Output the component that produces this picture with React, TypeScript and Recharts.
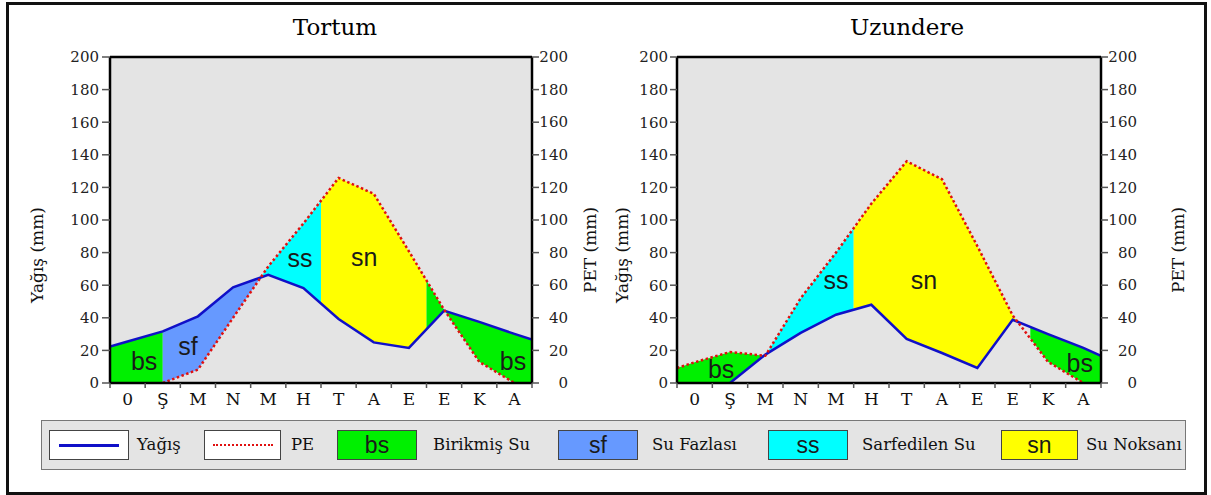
import React from 'react';
import { ComposedChart, Area, Line, XAxis, YAxis, CartesianGrid, ReferenceLine, ReferenceDot } from 'recharts';

// month initials, one band per month; x = 0..12, month centres at .5
const months = ['0', 'Ş', 'M', 'N', 'M', 'H', 'T', 'A', 'E', 'E', 'K', 'A'];
const monthTicks = [0, 1, 2, 3, 4, 5, 6, 7, 8, 9, 10, 11, 12];
const mmTicks = [0, 20, 40, 60, 80, 100, 120, 140, 160, 180, 200];

// Tortum
const tortumRainX = [0, 0.5, 1.5, 2.5, 3.5, 4.5, 5.5, 6.5, 7.5, 8.5, 9.5, 10.5, 11.5, 12];
const tortumRain = [22.4, 25.5, 31.7, 40.9, 58.7, 66.4, 58.3, 39.3, 24.9, 21.5, 44.4, 37.5, 30.1, 26.6];
const tortumPeX = [1.5, 2.5, 3.5, 4.5, 5.5, 6.5, 7.5, 8.5, 9.5, 10.5, 11.5];
const tortumPe = [0, 8.2, 40, 71.5, 97.9, 125.8, 116.1, 80.8, 45, 13, 0];

// Uzundere
const uzunRainX = [1.5, 2.5, 3.5, 4.5, 5.5, 6.5, 7.5, 8.5, 9.5, 10.5, 11.5, 12];
const uzunRain = [0, 17.4, 30.7, 41.9, 48, 27, 18.4, 9.2, 38.8, 30, 21.5, 16.7];
const uzunPeX = [0, 0.5, 1.5, 2.5, 3.5, 4.5, 5.5, 6.5, 7.5, 8.5, 9.5, 10.5, 11.5];
const uzunPe = [9.2, 12.7, 19, 16.7, 52, 80, 110, 136, 125, 84, 41.5, 13, 0];

const GREEN = '#00f000';
const BLUE = '#6699ff';
const CYAN = '#00ffff';
const YELLOW = '#ffff00';

// filled bands between the two curves: [from, to, colour]
const tortumBands: [number, number, string][] = [
  [0, 1.5, GREEN],
  [1.5, 4.29, BLUE],
  [4.29, 6, CYAN],
  [6, 9, YELLOW],
  [9, 12, GREEN],
];
const uzunBands: [number, number, string][] = [
  [0, 2.5, GREEN],
  [2.5, 5, CYAN],
  [5, 9.62, YELLOW],
  [10, 12, GREEN],
];

const tortumTags: [string, number, number][] = [
  ['bs', 0.97, 13.5], ['sf', 2.22, 22.9], ['ss', 5.4, 76.5], ['sn', 7.23, 77], ['bs', 11.46, 13.5],
];
const uzunTags: [string, number, number][] = [
  ['bs', 1.25, 8.8], ['ss', 4.5, 63.4], ['sn', 6.99, 63], ['bs', 11.4, 12.5],
];

const SERIF = "'DejaVu Serif', serif";
const SANS = "'Liberation Sans', Arial, sans-serif";

function valueAt(xs: number[], ys: number[], x: number) {
  if (x < xs[0] || x > xs[xs.length - 1]) return 0;
  for (let i = 0; i < xs.length - 1; i++) {
    if (x >= xs[i] && x <= xs[i + 1]) {
      const t = (x - xs[i]) / (xs[i + 1] - xs[i]);
      return ys[i] + t * (ys[i + 1] - ys[i]);
    }
  }
  return ys[ys.length - 1];
}

function buildBand(rx: number[], r: number[], px: number[], p: number[], from: number, to: number) {
  const xs = Array.from(new Set([from, to, ...rx, ...px]))
    .filter((x) => x >= from && x <= to)
    .sort((a, b) => a - b);
  const diff = (x: number) => valueAt(rx, r, x) - valueAt(px, p, x);
  const pts: number[] = [];
  xs.forEach((x, i) => {
    if (i > 0) {
      const d0 = diff(xs[i - 1]);
      const d1 = diff(x);
      if (d0 * d1 < 0) pts.push(xs[i - 1] + ((x - xs[i - 1]) * d0) / (d0 - d1));
    }
    pts.push(x);
  });
  return pts.map((x) => {
    const a = valueAt(rx, r, x);
    const b = valueAt(px, p, x);
    return { x, range: [Math.min(a, b), Math.max(a, b)] };
  });
}

const rightTick = (props: any) => {
  const { x, y, payload } = props;
  return (
    <text x={x + 27} y={y} dy="0.35em" textAnchor="end" fontSize={15} fill="#222" fontFamily={SERIF}>
      {payload.value}
    </text>
  );
};

const monthTick = (half: number) => (props: any) => {
  const { x, y, payload } = props;
  if (payload.value >= 12) return <g />;
  return (
    <text x={x + half} y={y} dy="0.71em" textAnchor="middle" fontSize={17} fill="#111" fontFamily={SERIF}>
      {months[payload.value]}
    </text>
  );
};

const axisTitle = (text: string, x: number, y: number) => () => (
  <text
    x={x}
    y={y}
    transform={`rotate(-90 ${x} ${y})`}
    textAnchor="middle"
    dominantBaseline="central"
    fontSize={17}
    fill="#111"
    fontFamily={SERIF}
  >
    {text}
  </text>
);

interface PanelProps {
  width: number;
  leftW: number;
  rightW: number;
  half: number;
  rainX: number[];
  rain: number[];
  peX: number[];
  pe: number[];
  bands: [number, number, string][];
  tags: [string, number, number][];
  leftTitleX: number;
  rightTitleX: number;
  tickSize: number;
  tickMargin: number;
}

function Panel(p: PanelProps) {
  const rainData = p.rainX.map((x, i) => ({ x, v: p.rain[i] }));
  const peData = p.peX.map((x, i) => ({ x, v: p.pe[i] }));
  return (
    <ComposedChart width={p.width} height={410} margin={{ top: 57, right: 0, bottom: 0, left: 0 }}>
      <CartesianGrid yAxisId="l" fill="#e4e4e4" horizontal={false} vertical={false} />
      <XAxis
        dataKey="x"
        type="number"
        domain={[0, 12]}
        ticks={monthTicks}
        interval={0}
        allowDataOverflow
        height={27}
        axisLine={{ stroke: '#000', strokeWidth: 2.5 }}
        tickLine={{ stroke: '#555', strokeWidth: 1.5 }}
        tickSize={5}
        tickMargin={5}
        tick={monthTick(p.half)}
      />
      <YAxis
        yAxisId="l"
        domain={[0, 200]}
        ticks={mmTicks}
        interval={0}
        allowDataOverflow
        width={p.leftW}
        axisLine={{ stroke: '#000', strokeWidth: 2.5 }}
        tickLine={{ stroke: '#555', strokeWidth: 1.5 }}
        tickSize={p.tickSize}
        tickMargin={p.tickMargin}
        tick={{ fontSize: 15, fill: '#222', fontFamily: SERIF }}
        label={{ content: axisTitle('Yağış (mm)', p.leftTitleX, 255) }}
      />
      <YAxis
        yAxisId="r"
        orientation="right"
        domain={[0, 200]}
        ticks={mmTicks}
        interval={0}
        allowDataOverflow
        width={p.rightW}
        axisLine={{ stroke: '#000', strokeWidth: 2.5 }}
        tickLine={{ stroke: '#555', strokeWidth: 1.5 }}
        tickSize={7}
        tickMargin={2}
        tick={rightTick}
        label={{ content: axisTitle('PET (mm)', p.rightTitleX, 250) }}
      />
      {p.bands.map(([from, to, color], i) => (
        <Area
          key={i}
          yAxisId="l"
          data={buildBand(p.rainX, p.rain, p.peX, p.pe, from, to)}
          dataKey="range"
          type="linear"
          stroke="none"
          fill={color}
          fillOpacity={1}
          isAnimationActive={false}
        />
      ))}
      <Line
        yAxisId="l"
        data={rainData}
        dataKey="v"
        type="linear"
        stroke="#1010c8"
        strokeWidth={2.5}
        dot={false}
        isAnimationActive={false}
      />
      <Line
        yAxisId="l"
        data={peData}
        dataKey="v"
        type="linear"
        stroke="#e01010"
        strokeWidth={2.5}
        strokeDasharray="2.5 2.5"
        dot={false}
        isAnimationActive={false}
      />
      <ReferenceLine yAxisId="l" y={200} stroke="#000" strokeWidth={2.5} />
      {p.tags.map(([t, x, y], i) => (
        <ReferenceDot
          key={i}
          yAxisId="l"
          x={x}
          y={y}
          r={0}
          fill="none"
          stroke="none"
          label={{ value: t, position: 'center', fontSize: 25, fill: '#1a1a1a', fontFamily: SANS }}
        />
      ))}
    </ComposedChart>
  );
}

const legendItems: [string, string, number, number, number][] = [
  // kind, text, box left, box width, text left
  ['rain', 'Yağış', 49, 80, 137],
  ['pe', 'PE', 204, 77, 291],
  ['bs', 'Birikmiş Su', 337, 80, 433],
  ['sf', 'Su Fazlası', 558, 80, 652],
  ['ss', 'Sarfedilen Su', 768, 80, 862],
  ['sn', 'Su Noksanı', 1001, 77, 1086],
];
const legendColors: Record<string, string> = { bs: GREEN, sf: BLUE, ss: CYAN, sn: YELLOW, rain: '#fff', pe: '#fff' };

export default function App() {
  return (
    <div style={{ position: 'relative', width: 1211, height: 495, background: '#fff', overflow: 'hidden' }}>
      <style>{'body{margin:0}'}</style>
      <div
        style={{
          position: 'absolute', left: 6, top: 2, width: 1201, height: 493,
          border: '3px solid #111', boxSizing: 'border-box',
        }}
      />
      <div style={{ position: 'absolute', left: 0, top: 0 }}>
        <Panel
          width={605} leftW={110} rightW={73} half={17.6}
          rainX={tortumRainX} rain={tortumRain} peX={tortumPeX} pe={tortumPe}
          bands={tortumBands} tags={tortumTags}
          leftTitleX={37} rightTitleX={590} tickSize={8} tickMargin={3}
        />
      </div>
      <div style={{ position: 'absolute', left: 605, top: 0 }}>
        <Panel
          width={606} leftW={72} rightW={110} half={17.65}
          rainX={uzunRainX} rain={uzunRain} peX={uzunPeX} pe={uzunPe}
          bands={uzunBands} tags={uzunTags}
          leftTitleX={17} rightTitleX={573} tickSize={7} tickMargin={2}
        />
      </div>
      <div style={{ position: 'absolute', left: 285, top: 14, width: 100, textAlign: 'center', fontFamily: SERIF, fontSize: 23, color: '#000' }}>
        Tortum
      </div>
      <div style={{ position: 'absolute', left: 837, top: 14, width: 140, textAlign: 'center', fontFamily: SERIF, fontSize: 23, color: '#000' }}>
        Uzundere
      </div>
      <div
        style={{
          position: 'absolute', left: 41, top: 420, width: 1145, height: 50,
          background: '#e4e4e4', border: '1.5px solid #777', boxSizing: 'border-box',
        }}
      />
      {legendItems.map(([kind, text, bx, bw, tx]) => (
        <React.Fragment key={kind}>
          <div
            style={{
              position: 'absolute', left: bx, top: 430, width: bw, height: 30,
              background: legendColors[kind], border: '1.5px solid #444', boxSizing: 'border-box',
              display: 'flex', alignItems: 'center', justifyContent: 'center',
              fontFamily: SANS, fontSize: 23, color: '#1a1a1a',
            }}
          >
            {kind === 'rain' && <div style={{ width: 60, height: 0, borderTop: '3px solid #1010c8' }} />}
            {kind === 'pe' && <div style={{ width: 60, height: 0, borderTop: '2.5px dotted #e01010' }} />}
            {kind !== 'rain' && kind !== 'pe' && kind}
          </div>
          <div
            style={{
              position: 'absolute', left: tx, top: 432, height: 26, lineHeight: '26px',
              fontFamily: SERIF, fontSize: 16.5, color: '#111', whiteSpace: 'nowrap',
            }}
          >
            {text}
          </div>
        </React.Fragment>
      ))}
    </div>
  );
}
